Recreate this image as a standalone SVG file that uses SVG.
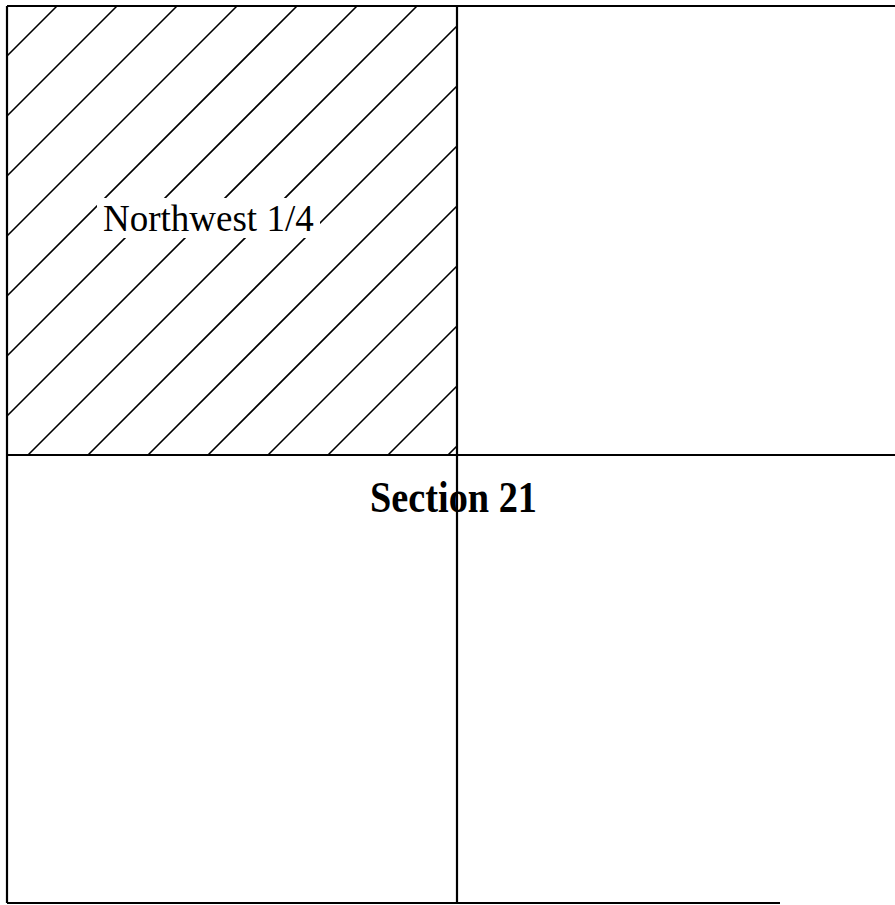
<svg xmlns="http://www.w3.org/2000/svg" width="895" height="905" viewBox="0 0 895 905">
<style>
.b{stroke:#000;stroke-width:2.2;fill:none}
.h{stroke:#000;stroke-width:1.6;fill:none}
.t{font-family:"Liberation Serif","Times New Roman",serif;fill:#000}
</style>
<rect width="895" height="905" fill="#fff"/>
<g id="hatch">
<path class="h" d="M57,6L7,56M117,6L7,116M177,6L7,176M237,6L7,236M297,6L7,296M357,6L7,356M417,6L7,416M457,26L28,455M457,86L88,455M457,146L148,455M457,206L208,455M457,266L268,455M457,326L328,455M457,386L388,455M457,446L448,455"/>
</g>
<g id="label-nw">
<rect x="97" y="198" width="223" height="40" fill="#fff"/>
<text class="t" x="103" y="231" font-size="37">Northwest 1/4</text>
</g>
<g id="lines">
<path class="b" d="M7,6H895M7,6V903M7,455H895M457,6V903M7,903H780"/>
</g>
<g id="label-section">
<text class="t" x="370" y="512" font-size="45" font-weight="bold" textLength="167" lengthAdjust="spacingAndGlyphs">Section 21</text>
</g>
</svg>
